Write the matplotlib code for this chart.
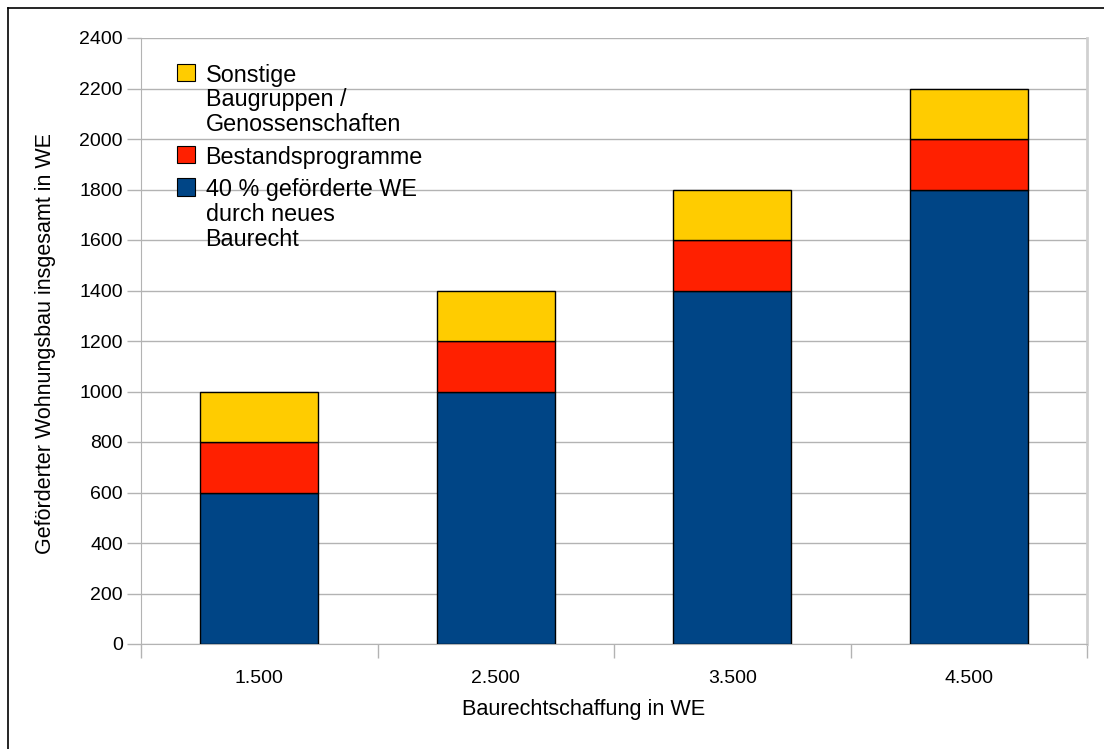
import matplotlib
matplotlib.use("Agg")
import matplotlib.pyplot as plt
from matplotlib.lines import Line2D
from matplotlib.patches import Patch

plt.rcParams['font.family'] = ['Liberation Sans', 'DejaVu Sans']

categories = ["1.500", "2.500", "3.500", "4.500"]
gefoerdert = [600, 1000, 1400, 1800]
bestand = [200, 200, 200, 200]
sonstige = [200, 200, 200, 200]
yticks = [0, 200, 400, 600, 800, 1000, 1200, 1400, 1600, 1800, 2000, 2200, 2400]

labels = ["40 % geförderte WE\ndurch neues\nBaurecht",
          "Bestandsprogramme",
          "Sonstige\nBaugruppen /\nGenossenschaften"]
colors = ["#004586", "#ff2000", "#ffcc00"]

W, H = 1104, 749
fig = plt.figure(figsize=(W / 100, H / 100), dpi=100)
ax = fig.add_axes([141 / W, 1 - 644 / H, (1087 - 141) / W, (644 - 38) / H])

x = list(range(len(categories)))
bottoms2 = [a + b for a, b in zip(gefoerdert, bestand)]
ax.bar(x, gefoerdert, width=0.5, color=colors[0], edgecolor="black", linewidth=1, zorder=3)
ax.bar(x, bestand, width=0.5, bottom=gefoerdert, color=colors[1], edgecolor="black", linewidth=1, zorder=3)
ax.bar(x, sonstige, width=0.5, bottom=bottoms2, color=colors[2], edgecolor="black", linewidth=1, zorder=3)

ax.set_xlim(-0.5, len(categories) - 0.5)
ax.set_ylim(0, 2400)
ax.set_yticks(yticks)
ax.set_yticklabels([str(v) for v in yticks], fontsize=14)
ax.yaxis.grid(True, color="#b3b3b3", linewidth=1, zorder=0)
ax.tick_params(axis="y", length=10, color="#b3b3b3", width=1, pad=3)

# category labels centered, tick marks at boundaries
ax.set_xticks(x)
ax.set_xticklabels(categories, fontsize=14)
ax.tick_params(axis="x", which="major", length=0, pad=19)
ax.set_xticks([i - 0.5 for i in range(len(categories) + 1)], minor=True)
ax.tick_params(axis="x", which="minor", length=10, color="#b3b3b3", width=1)

for s in ["left", "bottom"]:
    ax.spines[s].set_color("#b3b3b3")
ax.spines["right"].set_color("#d0d0d0")
ax.spines["top"].set_visible(False)
ax.spines["right"].set_linewidth(2)

ax.set_xlabel("Baurechtschaffung in WE", fontsize=15.6)
ax.xaxis.set_label_coords((584 - 141) / 946, -(710 - 644) / 606)
ax.xaxis.label.set_va("center")
ax.set_ylabel("Geförderter Wohnungsbau insgesamt in WE", fontsize=15.5)
ax.yaxis.set_label_coords(-(141 - 46) / 946, (644 - 344) / 606)
ax.yaxis.label.set_va("center")

handles = [Patch(facecolor=c, edgecolor="black", linewidth=0.8) for c in colors][::-1]
leg = ax.legend(handles, labels[::-1], loc="upper left", bbox_to_anchor=(0.028, 0.973),
                frameon=False, fontsize=16.8, handlelength=0.78, handleheight=0.78,
                handletextpad=0.45, labelspacing=0.4, borderaxespad=0)
for t in leg.get_texts():
    t.set_linespacing(1.1)
try:
    for col in leg._legend_handle_box.get_children():
        for item in col.get_children():
            item.align = "top"
except Exception:
    pass

# outer frame (left and top edge visible)
fig.add_artist(Line2D([8 / W, 8 / W], [0, 1 - 8 / H], color="black", linewidth=1.2))
fig.add_artist(Line2D([8 / W, 1], [1 - 8 / H, 1 - 8 / H], color="black", linewidth=1.2))

fig.savefig("out.png", dpi=100)
